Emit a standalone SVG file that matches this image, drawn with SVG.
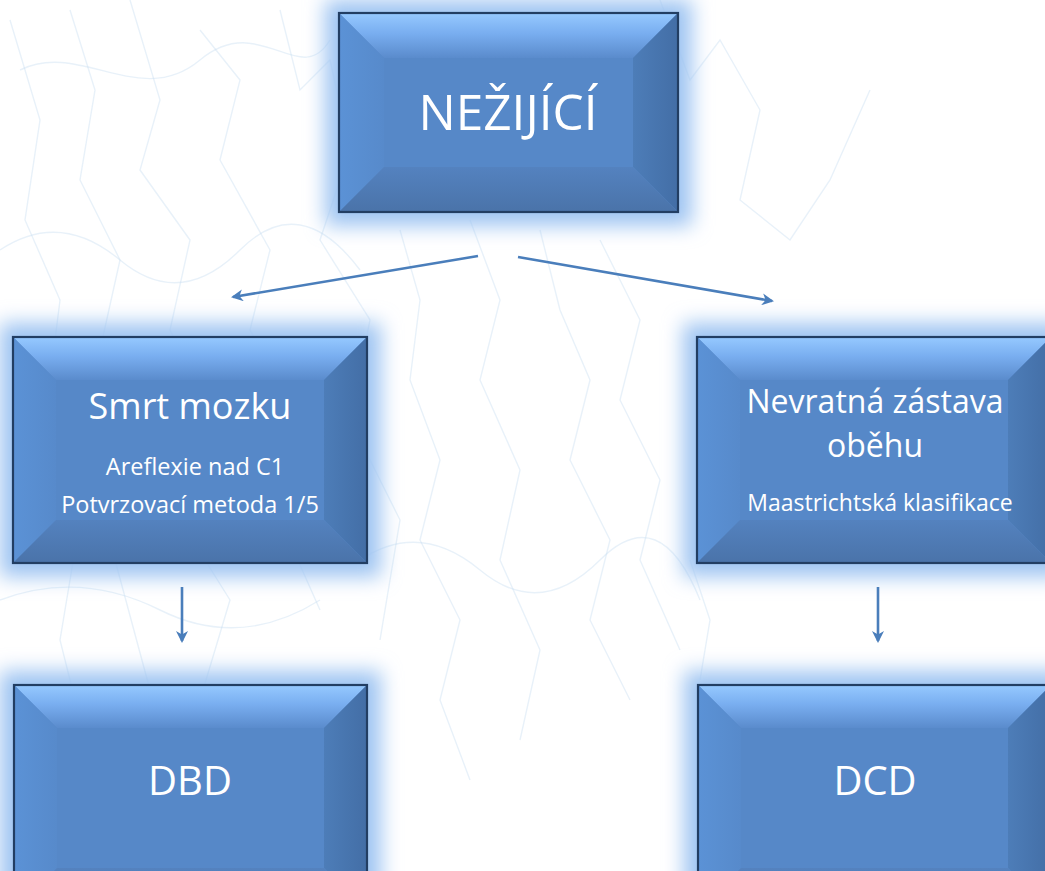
<svg xmlns="http://www.w3.org/2000/svg" width="1045" height="871" viewBox="0 0 1045 871">
<defs>
<linearGradient id="gTop" x1="0" y1="0" x2="0" y2="1"><stop offset="0" stop-color="#96c9ff"/><stop offset="0.45" stop-color="#79aef0"/><stop offset="1" stop-color="#5a8bcc"/></linearGradient>
<linearGradient id="gLeft" x1="0" y1="0" x2="1" y2="0"><stop offset="0" stop-color="#5b92d6"/><stop offset="1" stop-color="#578acb"/></linearGradient>
<linearGradient id="gRight" x1="0" y1="0" x2="1" y2="0"><stop offset="0" stop-color="#4d7db8"/><stop offset="1" stop-color="#436ea6"/></linearGradient>
<linearGradient id="gBot" x1="0" y1="0" x2="0" y2="1"><stop offset="0" stop-color="#5482bf"/><stop offset="1" stop-color="#4a73a9"/></linearGradient>
<filter id="glow" x="-20%" y="-30%" width="140%" height="160%"><feGaussianBlur stdDeviation="10"/></filter>
<marker id="ah" viewBox="0 0 12 12" refX="10" refY="6" markerWidth="12" markerHeight="12" markerUnits="userSpaceOnUse" orient="auto"><path d="M0,0 L12,6 L0,12 L3.5,6 z" fill="#4a7ebb"/></marker>
</defs>
<style>
.bg{fill:none;stroke:#c6dbf1;stroke-width:1.4;opacity:0.4}
.glow{fill:#9ec4f2;filter:url(#glow)}
.t{fill:url(#gTop)} .l{fill:url(#gLeft)} .r{fill:url(#gRight)} .b{fill:url(#gBot)}
.c{fill:#5688c8}
.edge{fill:none;stroke:#223e63;stroke-width:2.2}
.txt{fill:#ffffff;font-family:"Open Sans","Noto Sans",sans-serif;text-anchor:middle}
.conn{fill:none;stroke:#4a7ebb;stroke-width:2.6;marker-end:url(#ah)}
</style>
<rect width="1045" height="871" fill="#ffffff"/>
<g id="background">
<path class="bg" d="M10,20 L40,120 L25,220 L60,300 L45,420 L80,520 L60,640 L90,760"/>
<path class="bg" d="M70,10 L95,90 L80,180 L120,260 L100,350 L140,450 L115,560 L150,690"/>
<path class="bg" d="M130,0 L160,100 L140,170 L190,240 L170,330 L210,410 L180,520 L230,600 L200,700"/>
<path class="bg" d="M200,30 L240,80 L220,160 L270,250 L250,330 L300,420 L280,520 L320,610"/>
<path class="bg" d="M280,10 L300,90 L330,60 L350,150 L320,240 L370,320 L350,420 L400,520 L380,640"/>
<path class="bg" d="M400,230 L420,300 L410,380 L440,460 L420,540 L460,620 L440,700 L470,780"/>
<path class="bg" d="M470,220 L500,300 L480,380 L520,470 L500,560 L540,650 L520,740"/>
<path class="bg" d="M540,230 L560,310 L590,380 L570,460 L610,540 L590,620 L630,700"/>
<path class="bg" d="M600,240 L640,320 L620,400 L660,480 L640,560 L680,650"/>
<path class="bg" d="M660,0 L690,80 L720,40 L760,110 L740,200 L790,240 L830,180 L870,90"/>
<path class="bg" d="M0,250 Q60,210 120,260 T240,250 T360,270"/>
<path class="bg" d="M0,600 Q80,570 160,610 T320,600"/>
<path class="bg" d="M360,560 Q420,520 480,570 T600,560 T700,600"/>
<path class="bg" d="M20,70 C80,40 140,110 200,60 S300,90 330,40"/>
<path class="bg" d="M690,560 L710,620 L700,680"/>
</g>
<g id="glows">
<rect class="glow" x="325" y="0" width="367" height="226"/>
<rect class="glow" x="0" y="323" width="381" height="254"/>
<rect class="glow" x="683" y="323" width="381" height="254"/>
<rect class="glow" x="0" y="671" width="381" height="250"/>
<rect class="glow" x="684" y="671" width="381" height="250"/>
</g>
<g id="connectors">
<line class="conn" x1="478" y1="256" x2="233" y2="297"/>
<line class="conn" x1="518" y1="257" x2="772" y2="301"/>
<line class="conn" x1="182" y1="587" x2="182" y2="641"/>
<line class="conn" x1="878" y1="587" x2="878" y2="641"/>
</g>
<g id="node-nezijici">
<rect class="c" x="339" y="13" width="339" height="199"/>
<polygon class="t" points="339,13 678,13 633,58 384,58"/>
<polygon class="l" points="339,13 384,58 384,167 339,212"/>
<polygon class="r" points="678,13 678,212 633,167 633,58"/>
<polygon class="b" points="339,212 384,167 633,167 678,212"/>
<rect class="edge" x="339" y="13" width="339" height="199"/>
<text class="txt" x="508" y="130" font-size="49.5">NEŽIJÍCÍ</text>
</g>
<g id="node-smrt-mozku">
<rect class="c" x="13" y="337" width="354" height="226"/>
<polygon class="t" points="13,337 367,337 324,380 56,380"/>
<polygon class="l" points="13,337 56,380 56,520 13,563"/>
<polygon class="r" points="367,337 367,563 324,520 324,380"/>
<polygon class="b" points="13,563 56,520 324,520 367,563"/>
<rect class="edge" x="13" y="337" width="354" height="226"/>
<text class="txt" x="190" y="419" font-size="36">Smrt mozku</text>
<text class="txt" x="195" y="475" font-size="23.5">Areflexie nad C1</text>
<text class="txt" x="190" y="513" font-size="23.5">Potvrzovací metoda 1/5</text>
</g>
<g id="node-zastava">
<rect class="c" x="697" y="337" width="354" height="226"/>
<polygon class="t" points="697,337 1051,337 1008,380 740,380"/>
<polygon class="l" points="697,337 740,380 740,520 697,563"/>
<polygon class="r" points="1051,337 1051,563 1008,520 1008,380"/>
<polygon class="b" points="697,563 740,520 1008,520 1051,563"/>
<rect class="edge" x="697" y="337" width="354" height="226"/>
<text class="txt" x="875" y="413" font-size="32">Nevratná zástava</text>
<text class="txt" x="875" y="457" font-size="32">oběhu</text>
<text class="txt" x="880" y="511" font-size="23">Maastrichtská klasifikace</text>
</g>
<g id="node-dbd">
<rect class="c" x="14" y="685" width="353" height="226"/>
<polygon class="t" points="14,685 367,685 324,728 57,728"/>
<polygon class="l" points="14,685 57,728 57,868 14,911"/>
<polygon class="r" points="367,685 367,911 324,868 324,728"/>
<polygon class="b" points="14,911 57,868 324,868 367,911"/>
<rect class="edge" x="14" y="685" width="353" height="226"/>
<text class="txt" x="190" y="795" font-size="40">DBD</text>
</g>
<g id="node-dcd">
<rect class="c" x="698" y="685" width="353" height="226"/>
<polygon class="t" points="698,685 1051,685 1008,728 741,728"/>
<polygon class="l" points="698,685 741,728 741,868 698,911"/>
<polygon class="r" points="1051,685 1051,911 1008,868 1008,728"/>
<polygon class="b" points="698,911 741,868 1008,868 1051,911"/>
<rect class="edge" x="698" y="685" width="353" height="226"/>
<text class="txt" x="875" y="795" font-size="40">DCD</text>
</g>
</svg>
